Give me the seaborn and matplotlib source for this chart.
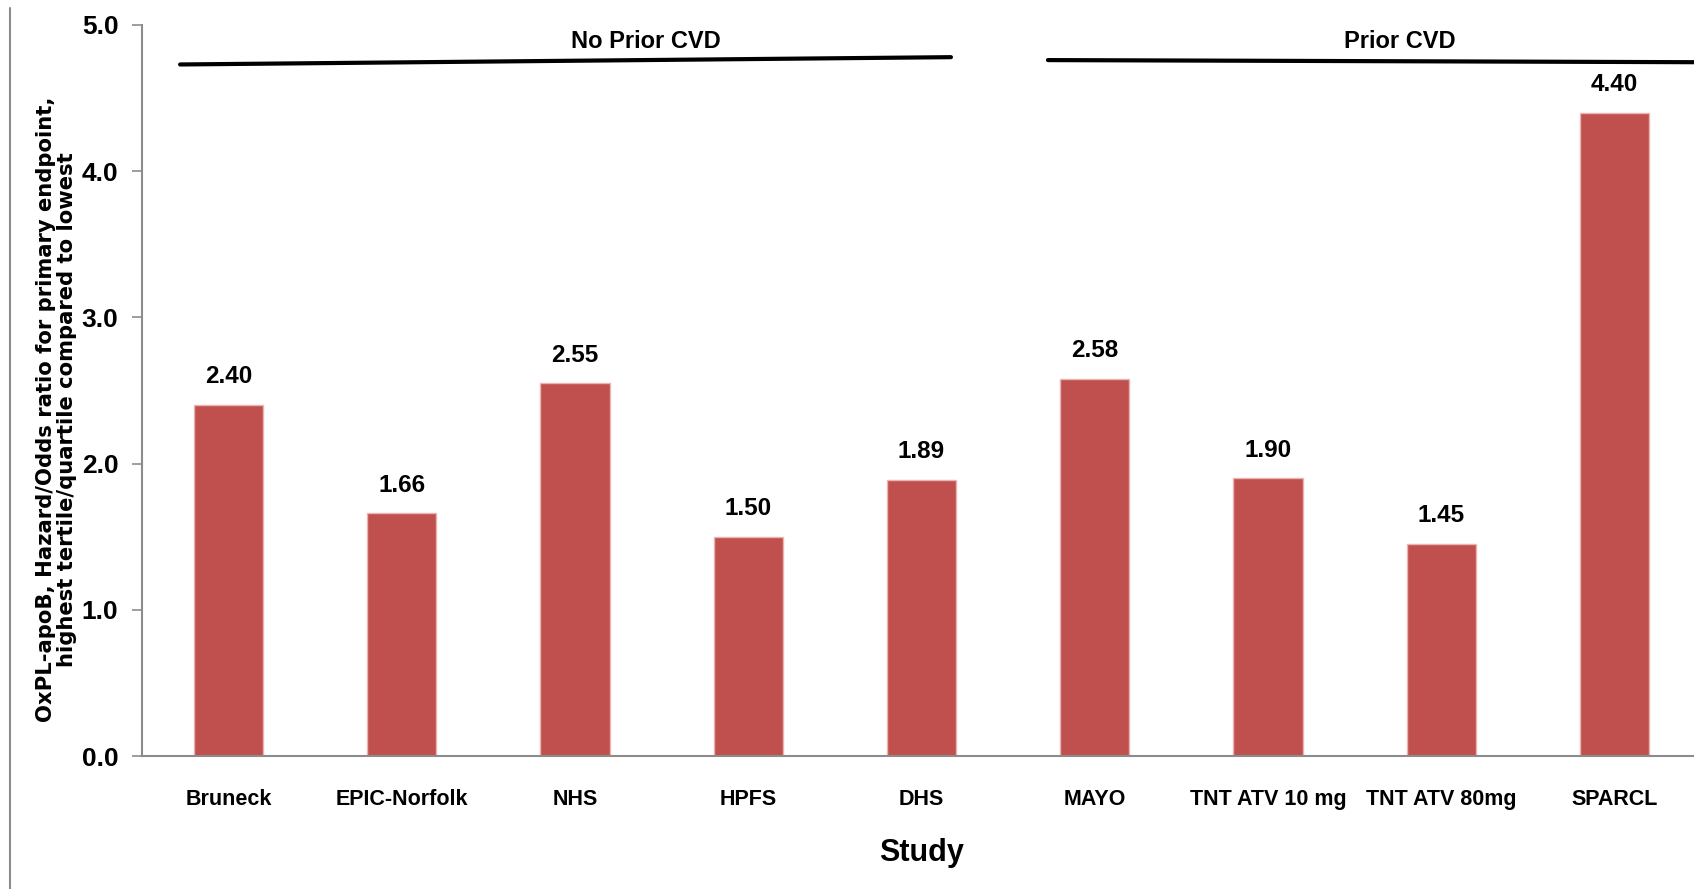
import seaborn as sns
import matplotlib.pyplot as plt
import matplotlib.lines as mlines
import pandas as pd

# data
studies = ['Bruneck', 'EPIC-Norfolk', 'NHS', 'HPFS', 'DHS',
           'MAYO', 'TNT ATV 10 mg', 'TNT ATV 80mg', 'SPARCL']
ratios = [2.40, 1.66, 2.55, 1.50, 1.89, 2.58, 1.90, 1.45, 4.40]
groups = ['No Prior CVD', 'Prior CVD']

df = pd.DataFrame({'Study': studies, 'Ratio': ratios})

sns.set_style('white')
plt.rcParams['font.family'] = ['Liberation Sans Narrow', 'Liberation Sans', 'DejaVu Sans']
plt.rcParams['font.weight'] = 'bold'
plt.rcParams['text.color'] = 'black'
plt.rcParams['axes.labelcolor'] = 'black'
plt.rcParams['xtick.color'] = 'black'
plt.rcParams['ytick.color'] = 'black'

fig = plt.figure(figsize=(16.94, 8.89), dpi=100)
ax = fig.add_axes([142 / 1694, 133 / 889, 1559 / 1694, 731 / 889])

sns.barplot(data=df, x='Study', y='Ratio', color='#C0504D', width=0.4,
            saturation=1, edgecolor='#e9b4b3', linewidth=1, ax=ax)

ax.bar_label(ax.containers[0], fmt='%.2f', padding=12,
             fontsize=17.5, fontweight='bold', color='black')

ax.set_ylim(0, 5)
ax.set_xlim(-0.5, len(studies) - 0.5)
ax.set_yticks([0, 1, 2, 3, 4, 5])
ax.set_yticklabels([f'{v:.1f}' for v in [0, 1, 2, 3, 4, 5]],
                   fontsize=19, fontweight='bold')
ax.set_xticks(range(len(studies)))
ax.set_xticklabels(studies, fontsize=15.5, fontweight='bold')
ax.set_xticks([i - 0.5 for i in range(len(studies) + 1)], minor=True)
ax.tick_params(axis='x', which='major', length=0, pad=24)
ax.tick_params(axis='x', which='minor', length=8, width=1.2, color='#8c8c8c')
ax.tick_params(axis='y', length=7, width=1.2, color='#8c8c8c', pad=10,
               left=True, labelcolor='black')

for s in ['top', 'right']:
    ax.spines[s].set_visible(False)
for s in ['left', 'bottom']:
    ax.spines[s].set_color('#8c8c8c')
    ax.spines[s].set_linewidth(1.5)

ax.set_xlabel('Study', fontsize=22, fontweight='bold', labelpad=20)
ax.set_ylabel('OxPL-apoB, Hazard/Odds ratio for primary endpoint,\n'
              'highest tertile/quartile compared to lowest',
              fontsize=15.2, fontweight='bold', family='DejaVu Sans',
              linespacing=1.05)
ax.yaxis.set_label_coords(-0.042, 0.474)

# group brackets above the bars
ax.plot([-0.28, 4.17], [4.73, 4.78], color='black', lw=3, clip_on=False)
ax.plot([4.73, 8.6], [4.76, 4.745], color='black', lw=3, clip_on=False)
ax.text(2.41, 4.89, groups[0], ha='center', va='center', fontsize=17)
ax.text(6.76, 4.89, groups[1], ha='center', va='center', fontsize=17)

# thin frame line on the left edge of the picture
fig.add_artist(mlines.Line2D([10 / 1694, 10 / 1694], [0, 1 - 8 / 889],
                             color='#8c8c8c', lw=1.5))

fig.savefig('out.png', dpi=100)
